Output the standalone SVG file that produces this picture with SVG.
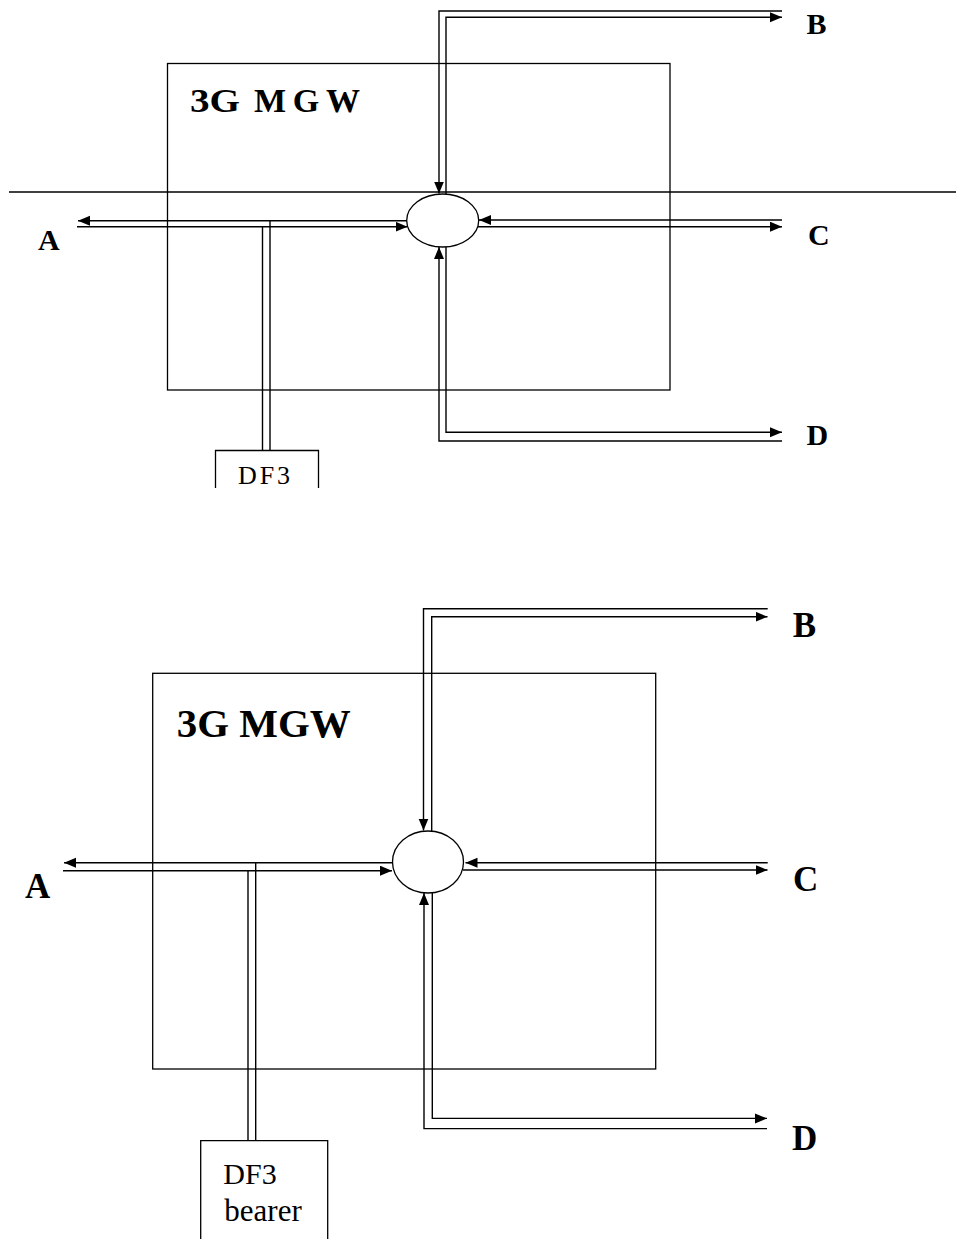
<svg xmlns="http://www.w3.org/2000/svg" width="956" height="1239" viewBox="0 0 956 1239">
<style>
.ln{fill:none;stroke:#000;stroke-width:1.4}
.arr{fill:none;stroke:#000;stroke-width:1.4;marker-end:url(#ah)}
.box{fill:none;stroke:#000;stroke-width:1.3}
.lbl{font-family:"Liberation Serif","Times New Roman",serif;font-weight:bold;fill:#000}
.txt{font-family:"Liberation Serif","Times New Roman",serif;fill:#000}
</style>
<defs>
<marker id="ah" markerUnits="userSpaceOnUse" markerWidth="13" markerHeight="11" refX="12" refY="5" orient="auto">
<path d="M0,0 L12,5 L0,10 z" fill="#000"/>
</marker>
</defs>
<rect width="956" height="1239" fill="#fff"/>

<!-- Top diagram -->
<g id="top-mgw">
<rect class="box" x="167.5" y="63.5" width="502.5" height="326.5"/>
<text class="lbl" y="112" font-size="34"><tspan x="190" textLength="50" lengthAdjust="spacingAndGlyphs">3G</tspan><tspan x="254" textLength="106" lengthAdjust="spacing">MGW</tspan></text>
</g>
<g id="top-divider">
<line class="ln" x1="9" y1="192" x2="956" y2="192"/>
</g>
<g id="top-switch">
<ellipse class="box" cx="442.7" cy="220.5" rx="36" ry="26.5"/>
</g>
<g id="top-df3">
<path class="box" d="M215.5,488 V450.5 H318.5 V488"/>
<text class="txt" x="238" y="484" font-size="26" textLength="52" lengthAdjust="spacing">DF3</text>
</g>
<g id="top-labels">
<text class="lbl" x="38" y="250" font-size="30">A</text>
<text class="lbl" x="806.5" y="33.5" font-size="30">B</text>
<text class="lbl" x="808" y="244.5" font-size="30">C</text>
<text class="lbl" x="806.5" y="445" font-size="30">D</text>
</g>
<g id="top-connectors">
<path class="arr" d="M782,11 H439 V193.5"/>
<path class="arr" d="M446,194 V17.3 H782"/>
<path class="arr" d="M782,220 H479"/>
<path class="arr" d="M478,226.7 H782"/>
<path class="arr" d="M407,220.7 H78"/>
<path class="arr" d="M77,226.7 H407.5"/>
<path class="ln" d="M262.5,226.7 V450.5"/>
<path class="ln" d="M270,220.7 V450.5"/>
<path class="arr" d="M782,441 H439 V247"/>
<path class="arr" d="M446,247 V432.3 H782"/>
</g>

<!-- Bottom diagram -->
<g id="bottom-mgw">
<rect class="box" x="152.7" y="673.3" width="503" height="395.7"/>
<text class="lbl" x="176.7" y="737.3" font-size="41" textLength="174" lengthAdjust="spacingAndGlyphs">3G MGW</text>
</g>
<g id="bottom-switch">
<ellipse class="box" cx="428" cy="862" rx="35.5" ry="31"/>
</g>
<g id="bottom-df3">
<path class="box" d="M200.7,1239 V1140.7 H327.7 V1239"/>
<text class="txt" x="223.3" y="1184" font-size="30">DF3</text>
<text class="txt" x="224.3" y="1221" font-size="31">bearer</text>
</g>
<g id="bottom-labels">
<text class="lbl" x="25" y="898.3" font-size="35">A</text>
<text class="lbl" x="792.7" y="636.7" font-size="35">B</text>
<text class="lbl" x="793" y="890.7" font-size="35">C</text>
<text class="lbl" x="792" y="1150" font-size="35">D</text>
</g>
<g id="bottom-connectors">
<path class="arr" d="M767.7,608.7 H423.5 V830.5"/>
<path class="arr" d="M431.7,831.5 V616.7 H767.5"/>
<path class="arr" d="M767.7,862.7 H465.5"/>
<path class="arr" d="M463,870 H767.5"/>
<path class="arr" d="M392.5,862.7 H64"/>
<path class="arr" d="M63,870.7 H392"/>
<path class="ln" d="M248,870.7 V1140.7"/>
<path class="ln" d="M255.7,862.7 V1140.7"/>
<path class="arr" d="M767,1128.6 H424 V893"/>
<path class="arr" d="M432.3,892.5 V1118.4 H767"/>
</g>
</svg>
